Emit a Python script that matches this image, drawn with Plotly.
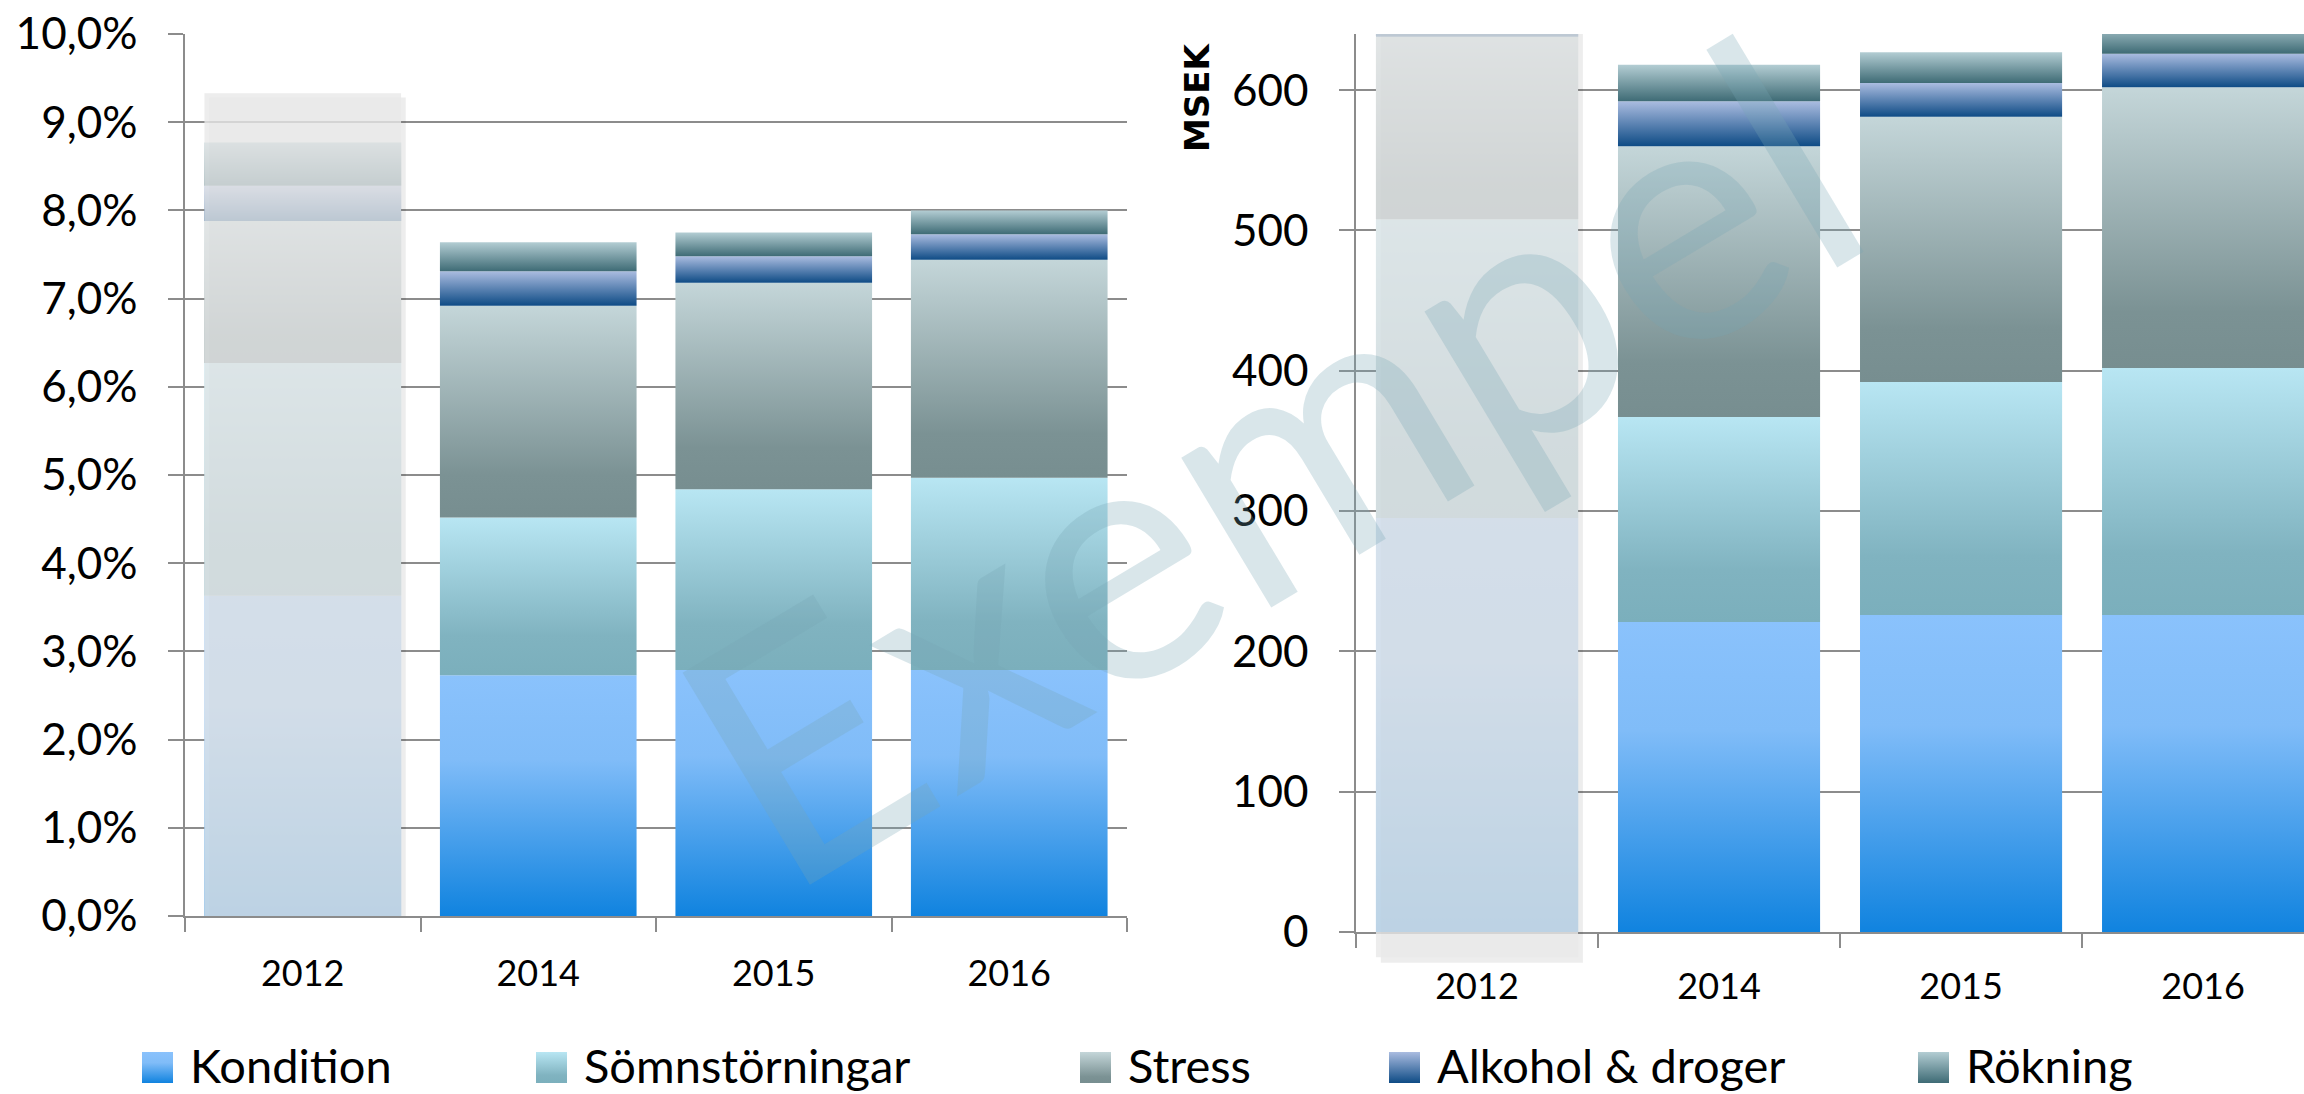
import plotly.graph_objects as go

years = ["2012", "2014", "2015", "2016"]
series = ["Kondition", "Sömnstörningar", "Stress", "Alkohol & droger", "Rökning"]

# vänster diagram, procent
pct_kondition = [3.63, 2.73, 2.79, 2.79]
pct_somn = [2.64, 1.79, 2.05, 2.18]
pct_stress = [1.61, 2.40, 2.34, 2.47]
pct_alkohol = [0.40, 0.39, 0.30, 0.29]
pct_rokning = [0.49, 0.33, 0.27, 0.27]

# höger diagram, MSEK
msek_kondition = [295, 221, 226, 226]
msek_somn = [213, 146, 166, 176]
msek_stress = [130, 193, 189, 200]
msek_alkohol = [32, 32, 24, 24]
msek_rokning = [40, 26, 22, 22]

pct_ticks = [0, 1, 2, 3, 4, 5, 6, 7, 8, 9, 10]
pct_labels = [f"{v:.1f}".replace(".", ",") + "%" for v in pct_ticks]
msek_ticks = [0, 100, 200, 300, 400, 500, 600]

gradients = {
    "Kondition": [[0, "#1083DF"], [0.65, "#80BCF8"], [1, "#8AC2FC"]],
    "Sömnstörningar": [[0, "#7BAFBC"], [0.25, "#80B3C0"], [1, "#B8E6F3"]],
    "Stress": [[0, "#778E90"], [0.2, "#7B9294"], [1, "#C4D6D9"]],
    "Alkohol & droger": [[0, "#0E4B85"], [1, "#AABCE0"]],
    "Rökning": [[0, "#3E6B75"], [1, "#B3CDD3"]],
}

W, H = 2304, 1094
GRID = "#8C8C8C"
HALF = 0.4175
FONT = "Lato"

fig = go.Figure()


def add_stack(segments, xa, ya):
    base = [0] * len(years)
    for name, vals in zip(series, segments):
        for i, v in enumerate(vals):
            top = base[i] + v
            fig.add_trace(go.Scatter(
                x=[i - HALF, i + HALF, i + HALF, i - HALF, i - HALF],
                y=[base[i], base[i], top, top, base[i]],
                mode="none", fill="toself",
                fillgradient=dict(type="vertical", colorscale=gradients[name]),
                xaxis=xa, yaxis=ya, showlegend=False, hoverinfo="skip"))
            base[i] = top


add_stack([pct_kondition, pct_somn, pct_stress, pct_alkohol, pct_rokning], "x", "y")
add_stack([msek_kondition, msek_somn, msek_stress, msek_alkohol, msek_rokning], "x2", "y2")

# egen teckenförklaring
legend_x = [142, 536, 1080, 1389, 1918]
sw = 31
for name, lx in zip(series, legend_x):
    fig.add_trace(go.Scatter(
        x=[lx, lx + sw, lx + sw, lx, lx], y=[11, 11, 42, 42, 11],
        mode="none", fill="toself",
        fillgradient=dict(type="vertical", colorscale=gradients[name]),
        xaxis="x3", yaxis="y3", showlegend=False, hoverinfo="skip"))

annotations = [
    dict(x=lx + sw + 15, y=29, xref="x3", yref="y3", text=name, showarrow=False,
         xanchor="left", yanchor="middle", font=dict(family=FONT, size=47, color="black"))
    for name, lx in zip(series, legend_x)
]
annotations.append(dict(
    x=1197 / W, y=1 - 97 / H, xref="paper", yref="paper", text="MSEK",
    showarrow=False, textangle=-90, xanchor="center", yanchor="middle",
    font=dict(family="DejaVu Sans", size=34, weight="bold", color="black")))
annotations.append(dict(
    x=1265 / W, y=1 - 455 / H, xref="paper", yref="paper", text="Exempel",
    showarrow=False, textangle=-31, xanchor="center", yanchor="middle",
    font=dict(family=FONT, size=345, color="rgba(120,167,180,0.28)")))

right_max = 640
overlay = "rgba(233,233,233,0.8)"
shapes = [
    dict(type="rect", xref="x", yref="y", x0=-HALF + 0.02, x1=HALF + 0.02, y0=-0.05, y1=9.28,
         fillcolor="rgba(0,0,0,0.07)", line=dict(width=0)),
    dict(type="rect", xref="x", yref="y", x0=-HALF, x1=HALF, y0=0, y1=9.33,
         fillcolor=overlay, line=dict(width=0)),
    dict(type="rect", xref="x2", yref="y2 domain", x0=-HALF + 0.02, x1=HALF + 0.02,
         y0=-22 / right_max, y1=1, fillcolor="rgba(0,0,0,0.07)", line=dict(width=0)),
    dict(type="rect", xref="x2", yref="y2 domain", x0=-HALF, x1=HALF,
         y0=-18 / right_max, y1=1, fillcolor=overlay, line=dict(width=0)),
]

xcommon = dict(
    tickvals=list(range(len(years))), ticktext=years, ticks="", showgrid=False,
    zeroline=False, showline=True, linecolor=GRID, linewidth=1.5,
    tickfont=dict(family=FONT, size=36, color="black"),
    minor=dict(tickvals=[-0.5, 0.5, 1.5, 2.5, 3.5], ticks="outside", ticklen=14,
               tickcolor=GRID, tickwidth=1.5, showgrid=False),
    fixedrange=True, automargin=False,
)
ycommon = dict(
    ticks="outside", ticklen=15, tickcolor=GRID, tickwidth=1.5,
    showgrid=True, gridcolor=GRID, gridwidth=1.5, zeroline=False,
    showline=True, linecolor=GRID, linewidth=1.5, ticklabelstandoff=22,
    tickfont=dict(family=FONT, size=44, color="black"), fixedrange=True,
    automargin=False,
)

fig.update_layout(
    width=W, height=H, margin=dict(l=0, r=0, t=0, b=0, autoexpand=False),
    paper_bgcolor="white", plot_bgcolor="white", showlegend=False,
    xaxis=dict(domain=[185 / W, 1127 / W], range=[-0.5, 3.5], ticklabelstandoff=25, **xcommon),
    yaxis=dict(domain=[1 - 916 / H, 1 - 34 / H], range=[0, 10.001], tickvals=pct_ticks,
               ticktext=pct_labels, **ycommon),
    xaxis2=dict(domain=[1356 / W, 1], range=[-0.5, 3.417], anchor="y2",
                ticklabelstandoff=22, **xcommon),
    yaxis2=dict(domain=[1 - 932 / H, 1 - 34 / H], range=[0, right_max], tickvals=msek_ticks,
                anchor="x2", **ycommon),
    xaxis3=dict(domain=[0, 1], range=[0, W], visible=False, anchor="y3",
                fixedrange=True, automargin=False),
    yaxis3=dict(domain=[0, 54 / H], range=[0, 54], visible=False, anchor="x3",
                fixedrange=True, automargin=False),
    shapes=shapes,
    annotations=annotations,
)

fig.write_html("out.html", config={"displayModeBar": False},
               post_script="document.body.style.margin='0px';")
